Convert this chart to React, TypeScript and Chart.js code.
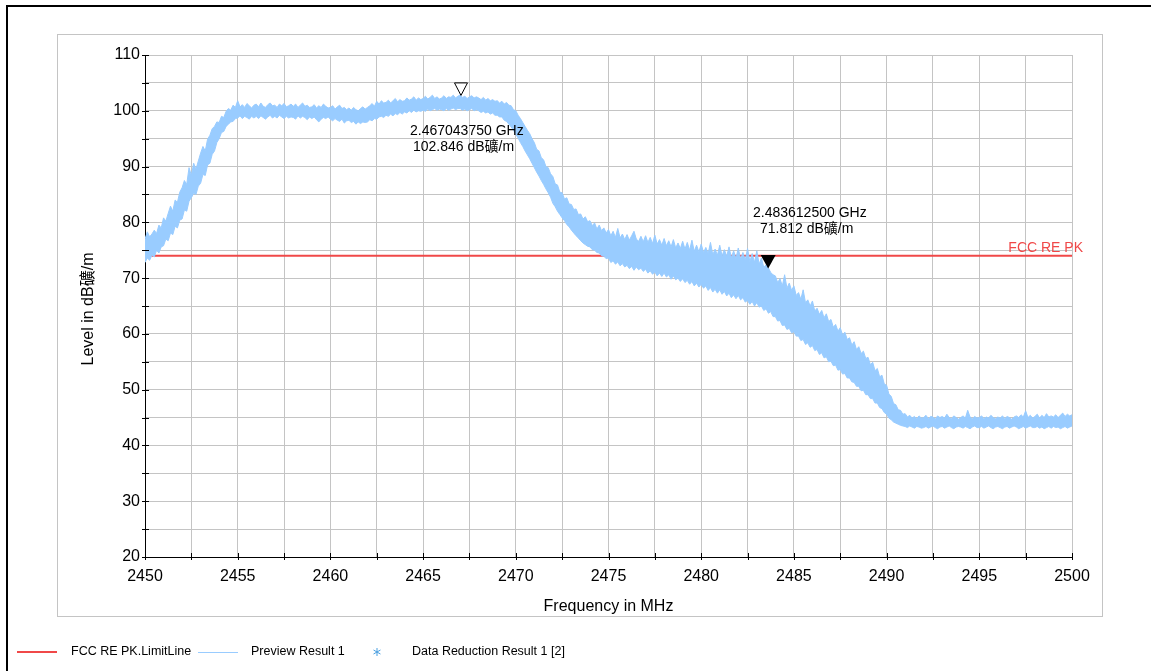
import React, { useEffect, useRef } from 'react';
import { Chart, registerables } from 'chart.js';

Chart.register(...registerables);

const FONT = '"Liberation Sans", Arial, "Noto Sans CJK SC", sans-serif';

// Sweep: 2450 MHz .. 2500 MHz, 0.125 MHz per sample (8 samples per MHz row)
const START_MHZ = 2450;
const STEP_MHZ = 0.125;

// Upper edge of the noisy "Preview Result 1" trace (dBµV/m)
const TRACE_HIGH = [
  77.0, 78.3, 77.4, 77.9, 78.6, 78.0, 79.5, 79.0,
  80.8, 80.2, 81.6, 82.9, 82.0, 84.0, 83.6, 85.4,
  86.2, 87.5, 86.8, 89.8, 88.4, 90.6, 89.5, 91.0,
  92.4, 93.6, 92.8, 94.9, 95.6, 96.8, 97.2, 98.0,
  97.9, 99.0, 98.8, 99.9, 100.4, 100.1, 101.0, 100.6,
  101.8, 100.7, 101.1, 100.6, 101.3, 100.9, 100.5, 101.0,
  101.2, 100.7, 101.4, 100.8, 100.6, 101.1, 101.4, 100.9,
  101.0, 100.6, 101.2, 100.9, 101.3, 100.7, 100.9, 101.2,
  100.8, 101.2, 100.6, 101.0, 101.4, 100.8, 101.0, 100.6,
  100.7, 101.1, 100.5, 100.9, 100.6, 101.2, 100.8, 100.5,
  100.6, 100.9, 100.3, 100.7, 101.0, 100.4, 100.6, 100.2,
  100.5, 100.1, 100.6, 100.2, 100.0, 100.4, 100.7, 100.3,
  100.6, 100.9, 101.3, 100.8, 101.7, 101.2, 101.8, 101.4,
  101.5, 101.9, 101.4, 101.8, 102.2, 101.6, 102.0, 101.7,
  101.8, 102.3, 101.9, 102.1, 102.5, 101.9, 102.3, 102.0,
  102.2, 102.6, 102.1, 102.4, 102.8, 102.2, 102.5, 102.1,
  102.3, 102.7, 102.2, 102.5, 102.4, 102.8, 102.3, 102.6,
  102.85, 102.4, 102.6, 102.2, 102.5, 102.7, 102.3, 102.5,
  102.3, 102.0, 102.4, 101.9, 102.2, 101.8, 102.0, 101.7,
  101.8, 101.4, 101.7, 101.2, 101.5, 101.0, 100.9, 100.2,
  100.0, 99.2, 98.6, 97.9, 97.2, 96.5, 95.9, 95.0,
  94.3, 93.1, 92.8, 91.6, 91.2, 90.0, 89.8, 88.7,
  88.2, 86.9, 86.7, 85.4, 85.3, 84.2, 84.4, 83.3,
  83.2, 82.3, 82.4, 81.4, 81.5, 80.6, 81.0, 80.1,
  80.3, 79.4, 79.9, 78.8, 79.5, 78.5, 79.0, 78.1,
  78.7, 77.6, 78.4, 77.3, 78.9, 77.2, 77.9, 76.9,
  77.8, 76.8, 77.6, 78.4, 77.0, 76.6, 77.5, 76.5,
  77.6, 76.4, 77.3, 76.2, 77.7, 76.1, 76.9, 75.9,
  77.1, 75.8, 76.7, 75.6, 76.9, 75.4, 76.3, 75.3,
  76.6, 75.2, 76.4, 75.0, 76.8, 74.8, 75.9, 74.7,
  76.1, 74.6, 75.5, 74.4, 76.4, 74.2, 75.2, 74.1,
  75.9, 74.0, 75.1, 73.9, 75.6, 73.7, 74.9, 73.5,
  75.4, 73.4, 74.6, 73.2, 75.3, 73.0, 74.4, 72.8,
  74.9, 72.5, 73.6, 71.9, 72.4, 71.8, 71.0, 70.6,
  70.4, 69.2, 69.9, 68.6, 70.6, 68.2, 69.1, 67.8,
  68.6, 66.9, 67.4, 66.2, 67.9, 65.6, 66.1, 65.0,
  65.9, 64.1, 64.6, 63.5, 64.2, 62.9, 63.6, 62.2,
  62.6, 61.2, 61.7, 60.5, 61.1, 59.8, 60.3, 59.0,
  59.3, 58.0, 58.6, 57.2, 57.7, 56.5, 56.9, 55.6,
  55.8, 54.5, 54.9, 53.4, 53.8, 52.3, 52.6, 51.0,
  50.8, 49.2, 48.8, 47.5, 47.3, 46.4, 46.3, 45.6,
  45.7, 45.1, 45.4, 44.9, 45.2, 44.8, 45.3, 44.9,
  45.0, 45.4, 44.8, 45.2, 45.1, 44.7, 45.3, 45.0,
  45.2, 44.9, 45.6, 45.0, 44.8, 45.3, 45.0, 44.7,
  45.0, 45.3, 44.9, 46.3, 45.1, 44.8, 45.2, 44.9,
  45.0, 45.3, 44.8, 45.1, 44.9, 45.4, 45.0, 44.8,
  45.1, 44.9, 45.3, 44.8, 45.2, 45.0, 44.7, 45.1,
  45.3, 45.0, 45.5, 45.1, 46.2, 45.0, 45.4, 44.9,
  45.2, 45.6, 44.9, 45.4, 45.0, 45.7, 45.1, 45.3,
  45.1, 45.5, 45.0, 45.4, 45.8, 45.2, 45.6, 45.3,
  45.5,
];

// Lower edge of the trace (dBµV/m)
const TRACE_LOW = [
  72.8, 73.6, 73.2, 74.1, 73.8, 75.0, 74.5, 75.6,
  75.8, 77.0, 76.7, 78.1, 77.8, 79.3, 79.0, 80.4,
  80.6, 82.2, 82.0, 83.8, 84.4, 85.2, 85.0, 86.5,
  87.0, 88.6, 88.4, 90.3, 90.6, 92.2, 92.8, 94.3,
  95.0, 96.1, 96.3, 97.2, 97.6, 98.0, 98.1, 98.6,
  98.7, 99.1, 98.6, 99.0, 98.8, 98.5, 99.0, 98.7,
  99.0, 98.6, 99.1, 98.8, 98.5, 98.9, 99.2, 98.7,
  99.0, 98.7, 99.2, 98.9, 98.6, 99.0, 98.7, 98.9,
  98.8, 98.5, 99.1, 98.7, 99.0, 98.8, 98.4, 98.9,
  98.6, 98.9, 98.4, 98.0, 98.5, 98.8, 98.6, 98.9,
  98.5, 98.2, 98.6, 98.3, 98.1, 98.5, 97.8, 98.2,
  98.3, 97.9, 98.1, 97.6, 98.0, 97.7, 98.0, 97.9,
  98.0, 98.4, 98.2, 98.6, 98.5, 98.9, 99.0, 98.8,
  99.2, 99.0, 99.4, 99.1, 99.5, 99.3, 99.7, 99.4,
  99.8, 99.6, 100.0, 99.7, 100.1, 99.8, 100.0, 99.9,
  100.1, 99.9, 100.3, 100.0, 100.2, 100.4, 100.1, 100.3,
  100.2, 100.0, 100.4, 100.1, 100.3, 100.5, 100.2, 100.4,
  100.4, 100.1, 100.3, 100.0, 100.2, 100.4, 100.0, 100.2,
  100.0, 99.7, 99.9, 99.6, 99.8, 99.4, 99.6, 99.2,
  99.2, 98.9, 98.9, 98.3, 98.1, 97.6, 97.1, 96.5,
  95.8, 95.1, 94.3, 93.6, 92.8, 92.1, 91.4, 90.6,
  89.8, 89.0, 88.3, 87.5, 86.8, 86.0, 85.3, 84.5,
  83.4, 82.8, 82.0, 81.4, 80.8, 80.3, 79.6, 79.2,
  78.6, 78.1, 77.6, 77.2, 76.7, 76.3, 76.0, 75.7,
  75.6, 75.1, 75.0, 74.6, 74.5, 74.0, 73.9, 73.5,
  73.6, 72.8, 73.1, 72.5, 72.9, 72.2, 72.6, 72.0,
  72.3, 71.7, 72.1, 71.4, 72.0, 71.5, 71.8, 71.2,
  71.6, 70.9, 71.3, 70.7, 71.1, 70.4, 70.9, 70.3,
  70.9, 70.2, 70.6, 69.8, 70.4, 69.7, 70.0, 69.4,
  69.9, 69.2, 69.6, 68.9, 69.4, 68.6, 69.1, 68.4,
  68.9, 68.2, 68.6, 67.8, 68.3, 67.5, 68.0, 67.3,
  67.9, 67.1, 67.6, 66.8, 67.3, 66.5, 67.0, 66.3,
  66.9, 66.1, 66.5, 65.7, 66.0, 65.3, 65.8, 65.0,
  65.6, 64.8, 65.0, 64.2, 64.5, 63.7, 64.0, 63.1,
  63.1, 62.3, 62.4, 61.5, 61.6, 60.8, 61.0, 60.2,
  60.4, 59.6, 59.6, 58.8, 59.0, 58.1, 58.4, 57.6,
  57.9, 57.0, 57.2, 56.3, 56.6, 55.7, 55.9, 55.0,
  55.1, 54.3, 54.4, 53.5, 53.6, 52.8, 52.9, 52.1,
  52.1, 51.4, 51.3, 50.6, 50.6, 49.8, 49.9, 49.1,
  49.1, 48.4, 48.4, 47.6, 47.6, 46.8, 46.6, 45.9,
  45.6, 44.9, 44.6, 44.2, 44.0, 43.8, 43.6, 43.5,
  43.4, 43.2, 43.5, 43.3, 43.1, 43.4, 43.3, 43.1,
  43.2, 43.4, 43.1, 43.3, 43.5, 43.2, 43.0, 43.3,
  43.4, 43.1, 43.3, 43.5, 43.2, 43.0, 43.3, 43.4,
  43.3, 43.1, 43.4, 43.2, 43.0, 43.3, 43.5, 43.2,
  43.2, 43.4, 43.1, 43.3, 43.5, 43.2, 43.0, 43.3,
  43.4, 43.2, 43.0, 43.3, 43.4, 43.1, 43.3, 43.5,
  43.3, 43.0, 43.2, 43.4, 43.1, 43.3, 43.5, 43.2,
  43.2, 43.4, 43.1, 43.3, 43.0, 43.2, 43.4, 43.1,
  43.4, 43.2, 43.3, 43.0, 43.2, 43.4, 43.1, 43.3,
  43.5,
];

const FREQS = TRACE_HIGH.map((_, i) => START_MHZ + i * STEP_MHZ);

const LIMIT_FREQS = [2450, 2500];
const LIMIT_LEVELS = [74, 74];
const LIMIT_NAME = 'FCC RE PK';

const MARKER_FREQS = [2467.04375, 2483.6125];
const MARKER_LEVELS = [102.846, 71.812];
const MARKER_LINE1 = ['2.467043750 GHz', '2.483612500 GHz'];
const MARKER_LINE2 = ['102.846 dB礦/m', '71.812 dB礦/m'];

const LEGEND_LABELS = ['FCC RE PK.LimitLine', 'Preview Result 1', 'Data Reduction Result 1 [2]'];

const X_TITLE = 'Frequency in MHz';
const Y_TITLE = 'Level in dB礦/m';

const TRACE_COLOR = '#99ccff';
const LIMIT_COLOR = '#f04848';

const decorPlugin = {
  id: 'decor',
  beforeDraw(chart: any) {
    const ctx = chart.ctx;
    ctx.save();
    ctx.fillStyle = '#ffffff';
    ctx.fillRect(0, 0, chart.width, chart.height);
    ctx.strokeStyle = '#000000';
    ctx.lineWidth = 2;
    ctx.beginPath();
    ctx.moveTo(7, 700);
    ctx.lineTo(7, 6);
    ctx.lineTo(1160, 6);
    ctx.stroke();
    ctx.strokeStyle = '#c4c4c4';
    ctx.lineWidth = 1;
    ctx.strokeRect(57.5, 34.5, 1045, 582);
    ctx.restore();
  },
  afterDraw(chart: any) {
    const ctx = chart.ctx;
    const xs = chart.scales.x;
    const ys = chart.scales.y;
    ctx.save();
    ctx.strokeStyle = '#000000';
    ctx.lineWidth = 1;
    ctx.beginPath();
    for (let v = 20; v <= 110; v += 5) {
      const py = Math.round(ys.getPixelForValue(v)) + 0.5;
      ctx.moveTo(xs.left - 3, py);
      ctx.lineTo(xs.left + 4, py);
    }
    for (let v = 2450; v <= 2500; v += 2.5) {
      const px = Math.round(xs.getPixelForValue(v)) + 0.5;
      ctx.moveTo(px, ys.bottom - 4);
      ctx.lineTo(px, ys.bottom + 3);
    }
    ctx.stroke();

    ctx.fillStyle = '#000000';
    ctx.font = `16px ${FONT}`;
    ctx.textAlign = 'center';
    ctx.textBaseline = 'middle';
    ctx.fillText(X_TITLE, (xs.left + xs.right) / 2, 607);
    ctx.save();
    ctx.translate(89, 309);
    ctx.rotate(-Math.PI / 2);
    ctx.fillText(Y_TITLE, 0, 0);
    ctx.restore();

    ctx.font = `14px ${FONT}`;
    ctx.fillStyle = LIMIT_COLOR;
    ctx.textAlign = 'right';
    ctx.fillText(LIMIT_NAME, 1083, ys.getPixelForValue(LIMIT_LEVELS[1]) - 8);

    MARKER_FREQS.forEach((f, i) => {
      const px = xs.getPixelForValue(f);
      const py = ys.getPixelForValue(MARKER_LEVELS[i]);
      const half = i === 0 ? 6.5 : 7.5;
      const h = i === 0 ? 12.5 : 13.5;
      ctx.beginPath();
      ctx.moveTo(px, py + 0.5);
      ctx.lineTo(px - half, py + 0.5 - h);
      ctx.lineTo(px + half, py + 0.5 - h);
      ctx.closePath();
      if (i === 0) {
        ctx.fillStyle = '#ffffff';
        ctx.fill();
        ctx.strokeStyle = '#000000';
        ctx.lineWidth = 1;
        ctx.stroke();
      } else {
        ctx.fillStyle = '#000000';
        ctx.fill();
      }
    });
    ctx.font = `14px ${FONT}`;
    ctx.fillStyle = '#000000';
    ctx.textAlign = 'left';
    ctx.textBaseline = 'middle';
    ctx.fillText(MARKER_LINE1[0], 410, 131);
    ctx.fillText(MARKER_LINE2[0], 413, 147);
    ctx.fillText(MARKER_LINE1[1], 753, 213);
    ctx.fillText(MARKER_LINE2[1], 760, 229);

    const ly = 652;
    ctx.lineWidth = 2;
    ctx.strokeStyle = LIMIT_COLOR;
    ctx.beginPath();
    ctx.moveTo(17, ly);
    ctx.lineTo(57, ly);
    ctx.stroke();
    ctx.lineWidth = 1;
    ctx.strokeStyle = TRACE_COLOR;
    ctx.beginPath();
    ctx.moveTo(198, ly + 0.5);
    ctx.lineTo(238, ly + 0.5);
    ctx.stroke();
    ctx.strokeStyle = '#4a9fe0';
    ctx.beginPath();
    const ax = 377, ay = ly, r = 4;
    ctx.moveTo(ax, ay - r); ctx.lineTo(ax, ay + r);
    ctx.moveTo(ax - r * 0.87, ay - r * 0.5); ctx.lineTo(ax + r * 0.87, ay + r * 0.5);
    ctx.moveTo(ax - r * 0.87, ay + r * 0.5); ctx.lineTo(ax + r * 0.87, ay - r * 0.5);
    ctx.stroke();
    ctx.font = `12.5px ${FONT}`;
    ctx.fillStyle = '#000000';
    ctx.fillText(LEGEND_LABELS[0], 71, ly);
    ctx.fillText(LEGEND_LABELS[1], 251, ly);
    ctx.fillText(LEGEND_LABELS[2], 412, ly);
    ctx.restore();
  },
};

export default function App() {
  const ref = useRef<HTMLCanvasElement | null>(null);
  useEffect(() => {
    if (!ref.current) return;
    const highPts = FREQS.map((f, i) => ({ x: f, y: TRACE_HIGH[i] }));
    const lowPts = FREQS.map((f, i) => ({ x: f, y: TRACE_LOW[i] }));
    const limitPts = LIMIT_FREQS.map((f, i) => ({ x: f, y: LIMIT_LEVELS[i] }));
    const chart = new Chart(ref.current, {
      type: 'line',
      data: {
        datasets: [
          {
            label: 'Preview Result 1 (upper)',
            data: highPts,
            borderColor: TRACE_COLOR,
            borderWidth: 1,
            pointRadius: 0,
            fill: false,
            tension: 0,
          },
          {
            label: 'Preview Result 1 (lower)',
            data: lowPts,
            borderColor: TRACE_COLOR,
            backgroundColor: TRACE_COLOR,
            borderWidth: 1,
            pointRadius: 0,
            fill: '-1',
            tension: 0,
          },
          {
            label: 'FCC RE PK.LimitLine',
            data: limitPts,
            borderColor: LIMIT_COLOR,
            borderWidth: 2,
            pointRadius: 0,
            fill: false,
          },
        ],
      },
      options: {
        responsive: false,
        animation: false,
        devicePixelRatio: 1,
        layout: { padding: { top: 55, right: 79, left: 0, bottom: 0 } },
        plugins: { legend: { display: false }, tooltip: { enabled: false } },
        scales: {
          x: {
            type: 'linear',
            min: 2450,
            max: 2500,
            afterFit: (s: any) => { s.height = 114; },
            ticks: {
              stepSize: 2.5,
              autoSkip: false,
              maxRotation: 0,
              padding: 10,
              color: '#000000',
              font: { family: FONT, size: 16 },
              callback: (v: any) => (Number(v) % 5 === 0 ? String(v) : ''),
            },
            grid: { color: '#c4c4c4', lineWidth: 1, drawTicks: false },
            border: { display: true, color: '#000000', width: 1 },
          },
          y: {
            type: 'linear',
            min: 20,
            max: 110,
            afterFit: (s: any) => { s.width = 145; },
            ticks: {
              stepSize: 5,
              autoSkip: false,
              padding: 5,
              color: '#000000',
              font: { family: FONT, size: 16 },
              callback: (v: any) => (Number(v) % 10 === 0 ? String(v) : ''),
            },
            grid: { color: '#c4c4c4', lineWidth: 1, drawTicks: false },
            border: { display: true, color: '#000000', width: 1 },
          },
        },
      },
      plugins: [decorPlugin],
    });
    return () => chart.destroy();
  }, []);
  return (
    <div style={{ position: 'fixed', left: 0, top: 0, width: 1151, height: 671, background: '#ffffff' }}>
      <canvas ref={ref} width={1151} height={671} style={{ display: 'block' }} />
    </div>
  );
}
